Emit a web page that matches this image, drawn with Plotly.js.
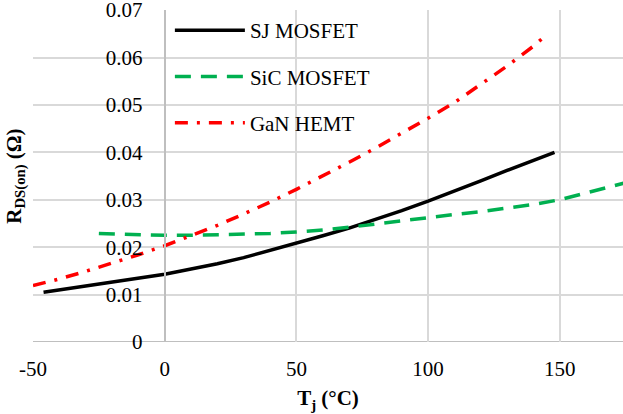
<!DOCTYPE html>
<html>
<head>
<meta charset="utf-8">
<script src="https://cdn.plot.ly/plotly-3.0.1.min.js"></script>
<style>
  html, body { margin: 0; padding: 0; background: #ffffff; }
  #chart { width: 623px; height: 414px; }
</style>
</head>
<body>
<div id="chart"></div>
<script>
// On-resistance versus junction temperature for three power devices
const sjTemp = [-46, -40, -30, -20, -10, 0, 10, 20, 30, 40, 50, 60, 70, 80, 90, 100, 110, 120, 130, 140, 148];
const sjRds  = [0.0105, 0.0110, 0.0118, 0.0126, 0.0134, 0.0143, 0.0154, 0.0165, 0.0178, 0.0193, 0.0208,
                0.0224, 0.0240, 0.0258, 0.0277, 0.0297, 0.0318, 0.0340, 0.0362, 0.0383, 0.0400];

const sicTemp = [-25, -20, -10, 0, 10, 20, 30, 40, 50, 60, 70, 80, 90, 100, 110, 120, 130, 140, 150, 160, 170, 175];
const sicRds  = [0.0229, 0.0228, 0.0226, 0.0225, 0.0225, 0.0226, 0.0227, 0.0229, 0.0232, 0.0236, 0.0242,
                 0.0249, 0.0256, 0.0263, 0.0269, 0.0275, 0.0282, 0.0290, 0.0300, 0.0315, 0.0330, 0.0336];

const ganTemp = [-50, -40, -30, -20, -10, 0, 10, 20, 30, 40, 50, 60, 70, 80, 90, 100, 110, 120, 130, 140, 145];
const ganRds  = [0.0119, 0.0133, 0.0149, 0.0166, 0.0184, 0.0203, 0.0224, 0.0246, 0.0270, 0.0295, 0.0322,
                 0.0350, 0.0379, 0.0409, 0.0440, 0.0472, 0.0505, 0.0543, 0.0582, 0.0624, 0.0648];

const seriesNames = ['SJ MOSFET', 'SiC MOSFET', 'GaN HEMT'];
const xTicks = [-50, 0, 50, 100, 150];
const xTickText = ['-50', '0', '50', '100', '150'];
const yTicks = [0, 0.01, 0.02, 0.03, 0.04, 0.05, 0.06, 0.07];
const yTickText = ['0', '0.01', '0.02', '0.03', '0.04', '0.05', '0.06', '0.07'];

const FONT = '"Liberation Serif", "Times New Roman", serif';
const xRange = [-50, 174];

const traces = [
  { x: sjTemp, y: sjRds, name: seriesNames[0], legendgroup: 'a', mode: 'lines',
    line: { color: '#000000', width: 3.5 } },
  { x: sicTemp, y: sicRds, name: seriesNames[1], legendgroup: 'b', mode: 'lines',
    line: { color: '#00b050', width: 3.5, dash: '16px,10px' } },
  { x: ganTemp, y: ganRds, name: seriesNames[2], legendgroup: 'c', mode: 'lines',
    line: { color: '#ff0000', width: 3.5, dash: '13px,9px,3px,9px' } }
];

const tickFont = { family: FONT, size: 21, color: '#000000' };

const layout = {
  width: 623, height: 414,
  margin: { l: 33, r: 0, t: 10, b: 72 },
  paper_bgcolor: '#ffffff', plot_bgcolor: '#ffffff',
  font: { family: FONT, size: 21, color: '#000000' },
  showlegend: true,
  legend: {
    x: 0.232, y: 1.0, xanchor: 'left', yanchor: 'top',
    bgcolor: 'rgba(0,0,0,0)', borderwidth: 0,
    itemwidth: 70, tracegroupgap: 16, traceorder: 'grouped',
    font: { family: FONT, size: 21, color: '#000000' }
  },
  xaxis: {
    range: xRange, tickmode: 'array', tickvals: xTicks, ticktext: xTickText,
    showgrid: true, gridcolor: '#d9d9d9', gridwidth: 2,
    zeroline: false, showline: false, ticks: '', ticklabelstandoff: 12,
    ticklabeloverflow: 'allow', tickfont: tickFont,
    title: { text: '<b>T<sub>j</sub> (°C)</b>', font: { family: FONT, size: 21, color: '#000000' }, standoff: 10 }
  },
  yaxis: {
    range: [0, 0.07002], tickmode: 'array', tickvals: yTicks, ticktext: yTickText,
    anchor: 'free', position: (0 - xRange[0]) / (xRange[1] - xRange[0]),
    showgrid: true, gridcolor: '#d9d9d9', gridwidth: 2,
    zeroline: false, showline: true, linecolor: '#bfbfbf', linewidth: 2,
    ticks: '', ticklabelstandoff: 17,
    ticklabeloverflow: 'allow', tickfont: tickFont
  },
  shapes: [
    // horizontal axis line along the bottom of the plotting area
    { type: 'line', xref: 'paper', yref: 'y', x0: 0, x1: 1, y0: 0, y1: 0,
      line: { color: '#bfbfbf', width: 2 }, layer: 'below' }
  ],
  annotations: [
    { text: '<b>R<sub>DS(on)</sub> (Ω)</b>', textangle: -90, xref: 'paper', yref: 'paper',
      x: -0.031, y: 0.5, xanchor: 'center', yanchor: 'middle', showarrow: false,
      font: { family: FONT, size: 21, color: '#000000' } }
  ]
};

Plotly.newPlot('chart', traces, layout, { displayModeBar: false, staticPlot: true });
</script>
</body>
</html>
